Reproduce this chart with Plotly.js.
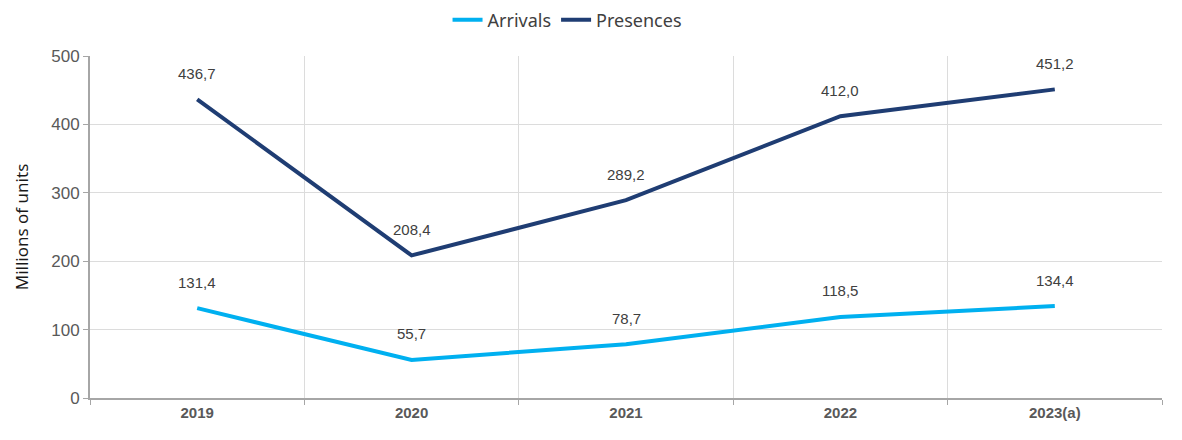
<!DOCTYPE html>
<html>
<head>
<meta charset="utf-8">
<script src="https://cdn.plot.ly/plotly-3.0.1.min.js"></script>
<style>html,body{margin:0;padding:0;background:#fff;}#chart{width:1182px;height:440px;}</style>
</head>
<body>
<div id="chart"></div>
<script>
const years = ["2019", "2020", "2021", "2022", "2023(a)"];
const arrivals = [131.4, 55.7, 78.7, 118.5, 134.4];
const presences = [436.7, 208.4, 289.2, 412.0, 451.2];
const yTicks = [0, 100, 200, 300, 400, 500];

function fmt(v) { return v.toFixed(1).replace('.', ','); }

const traces = [
  {x: years, y: arrivals, name: "Arrivals", type: "scatter", mode: "lines",
   line: {color: "#00b0f0", width: 4}},
  {x: years, y: presences, name: "Presences", type: "scatter", mode: "lines",
   line: {color: "#1f3d73", width: 4}}
];

const annotations = [];
[arrivals, presences].forEach(series => {
  series.forEach((v, i) => {
    annotations.push({x: i, y: v, xref: "x", yref: "y", text: fmt(v),
      showarrow: false, yshift: 26, font: {family: "Liberation Sans, Arial", size: 15, color: "#404040"}});
  });
});

const layout = {
  width: 1182, height: 440,
  margin: {l: 90, r: 20, t: 56, b: 42, autoexpand: false},
  paper_bgcolor: "#fff", plot_bgcolor: "#fff",
  showlegend: true,
  legend: {orientation: "h", x: 0.445, xanchor: "center", y: 1.105, yanchor: "middle",
    font: {family: "Noto Sans, sans-serif", size: 18, color: "#404040"}},
  xaxis: {type: "category", range: [-0.5, 4.5], tickson: "boundaries", ticks: "outside", ticklen: 5,
    tickcolor: "#a6a6a6", showgrid: true, gridcolor: "#dcdcdc", gridwidth: 1,
    showline: true, linecolor: "#a6a6a6", linewidth: 2,
    tickfont: {family: "Liberation Sans, Arial", size: 15, color: "#595959", weight: "bold"}},
  yaxis: {range: [0, 500], tickvals: yTicks, ticks: "outside", ticklen: 5, tickcolor: "#a6a6a6",
    showgrid: true, gridcolor: "#dcdcdc", gridwidth: 1, zeroline: false,
    showline: true, linecolor: "#a6a6a6", linewidth: 2,
    tickfont: {family: "Liberation Sans, Arial", size: 17, color: "#595959"},
    title: {text: "Millions of units", standoff: 18, font: {family: "Noto Sans, sans-serif", size: 17, color: "#1a1a1a"}}},
  annotations: annotations
};

Plotly.newPlot("chart", traces, layout, {displayModeBar: false, staticPlot: true});
</script>
</body>
</html>
